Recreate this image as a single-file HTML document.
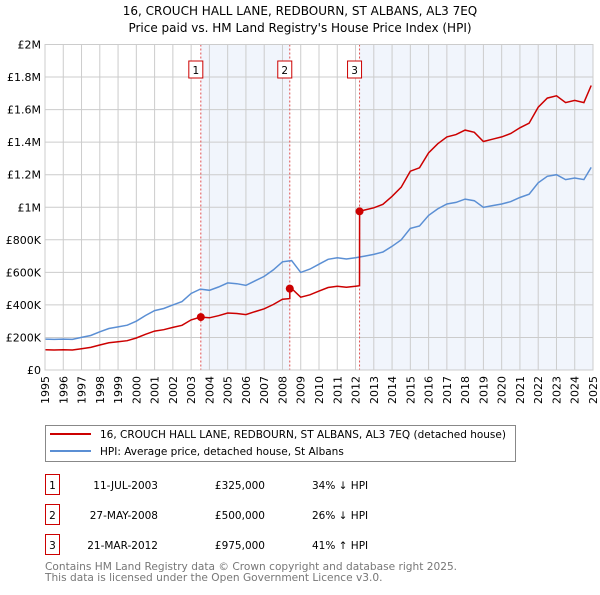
<!DOCTYPE html>
<html><head><meta charset="utf-8"><style>
body{margin:0;background:#fff;}
svg text{font-family:"DejaVu Sans","Liberation Sans",sans-serif;}
</style></head><body>
<svg id="c" width="600" height="590" viewBox="0 0 600 590" xmlns="http://www.w3.org/2000/svg">
<text x="300" y="15" text-anchor="middle" font-size="12">16, CROUCH HALL LANE, REDBOURN, ST ALBANS, AL3 7EQ</text>
<text x="300" y="32" text-anchor="middle" font-size="12">Price paid vs. HM Land Registry's House Price Index (HPI)</text>
<g id="plot"></g>
<g>
<rect x="45.5" y="425.5" width="470" height="36" fill="#fff" stroke="#888"/>
<line x1="50" y1="434" x2="91" y2="434" stroke="#cc0000" stroke-width="2"/>
<text x="100" y="438" font-size="10.5">16, CROUCH HALL LANE, REDBOURN, ST ALBANS, AL3 7EQ (detached house)</text>
<line x1="50" y1="451" x2="91" y2="451" stroke="#5b8fd4" stroke-width="2"/>
<text x="100" y="455" font-size="10.5">HPI: Average price, detached house, St Albans</text>
</g>
<g id="table" font-size="10.5"></g>
<text x="45" y="570" font-size="10.6" fill="#777">Contains HM Land Registry data © Crown copyright and database right 2025.</text>
<text x="45" y="581" font-size="10.6" fill="#777">This data is licensed under the Open Government Licence v3.0.</text>
</svg>
<script>
const hpiYears=[1995,1995.5,1996,1996.5,1997,1997.5,1998,1998.5,1999,1999.5,2000,2000.5,2001,2001.5,2002,2002.5,2003,2003.5,2004,2004.5,2005,2005.5,2006,2006.5,2007,2007.5,2008,2008.5,2009,2009.5,2010,2010.5,2011,2011.5,2012,2012.5,2013,2013.5,2014,2014.5,2015,2015.5,2016,2016.5,2017,2017.5,2018,2018.5,2019,2019.5,2020,2020.5,2021,2021.5,2022,2022.5,2023,2023.5,2024,2024.5,2024.9];
const hpiValues=[190,188,190,188,200,212,235,255,265,275,300,335,365,378,400,420,470,497,490,510,535,530,520,548,575,615,665,672,600,620,650,680,690,682,690,700,710,725,760,800,870,885,950,990,1020,1030,1050,1040,1000,1010,1020,1035,1060,1080,1150,1190,1200,1170,1180,1170,1245];
const saleLabels=["1","2","3"];
const saleYears=[2003.53,2008.4,2012.22];
const salePrices=[325,500,975];
const saleDates=["11-JUL-2003","27-MAY-2008","21-MAR-2012"];
const salePriceText=["£325,000","£500,000","£975,000"];
const saleHpiText=["34% ↓ HPI","26% ↓ HPI","41% ↑ HPI"];
const yTicks=[0,200,400,600,800,1000,1200,1400,1600,1800,2000];
const yTickLabels=["£0","£200K","£400K","£600K","£800K","£1M","£1.2M","£1.4M","£1.6M","£1.8M","£2M"];

const NS="http://www.w3.org/2000/svg";
const X0=45,X1=593,Y0=370,Y1=44.5;
const xs=t=>X0+(t-1995)/30*(X1-X0);
const ys=v=>Y0-v/2000*(Y0-Y1);
const plot=document.getElementById('plot');
function mk(tag,attrs,parent){const e=document.createElementNS(NS,tag);for(const k in attrs)e.setAttribute(k,attrs[k]);(parent||plot).appendChild(e);return e;}
function hpiAt(t){for(let i=0;i<hpiYears.length-1;i++){if(t<=hpiYears[i+1]){const f=(t-hpiYears[i])/(hpiYears[i+1]-hpiYears[i]);return hpiValues[i]+f*(hpiValues[i+1]-hpiValues[i]);}}return hpiValues[hpiValues.length-1];}

let sh=mk('rect',{x:xs(saleYears[0]),y:Y1,width:xs(saleYears[1])-xs(saleYears[0]),height:Y0-Y1,fill:'#eef2fb',opacity:0.8});


let sh2=mk('rect',{x:xs(saleYears[2]),y:Y1,width:X1-xs(saleYears[2]),height:Y0-Y1,fill:'#eef2fb',opacity:0.8});


for(let i=0;i<yTicks.length;i++){
 const y=ys(yTicks[i]);
 const g=mk('line',{x1:X0,x2:X1,y1:y,y2:y,stroke:'#ccc','stroke-width':1});
 
 
 const t=mk('text',{x:X0-4,y:y+4,'text-anchor':'end','font-size':11});
 t.textContent=yTickLabels[i];
 
 
}
for(let yr=1995;yr<=2025;yr++){
 const x=xs(yr);
 const g=mk('line',{x1:x,x2:x,y1:Y1,y2:Y0,stroke:'#ccc','stroke-width':1});
 
 
 const t=mk('text',{transform:`translate(${x+4},${Y0+34}) rotate(-90)`,'font-size':11});
 t.textContent=yr;
 
 
}
for(let i=0;i<saleYears.length;i++){
 const x=xs(saleYears[i]);
 const l=mk('line',{x1:x,x2:x,y1:Y1,y2:Y0,stroke:'#e05050','stroke-width':1,'stroke-dasharray':'2,2'});
 
 
 const b=mk('rect',{x:x-12,y:61,width:14,height:17,fill:'#fff',stroke:'#cc0000'});
 
 
 const t=mk('text',{x:x-5,y:74,'text-anchor':'middle','font-size':10.5});
 t.textContent=saleLabels[i];
 
 
}
let d='';
hpiYears.forEach((t,i)=>{d+=(i?'L':'M')+xs(t).toFixed(1)+','+ys(hpiValues[i]).toFixed(1);});
const hp=mk('path',{d:d,fill:'none',stroke:'#5b8fd4','stroke-width':1.5});


let pd='';
const ratio0=salePrices[0]/hpiAt(saleYears[0]);
function priceAt(t){let r=ratio0;for(let i=0;i<saleYears.length;i++){if(t>=saleYears[i])r=salePrices[i]/hpiAt(saleYears[i]);}return hpiAt(t)*r;}
const pts=[];
hpiYears.forEach(t=>pts.push(t));
saleYears.forEach(t=>{pts.push(t-0.001);pts.push(t);});
pts.sort((a,b)=>a-b);
pts.forEach((t,i)=>{pd+=(i?'L':'M')+xs(t).toFixed(1)+','+ys(priceAt(t)).toFixed(1);});
const pp=mk('path',{d:pd,fill:'none',stroke:'#cc0000','stroke-width':1.5});


for(let i=0;i<saleYears.length;i++){
 const c=mk('circle',{cx:xs(saleYears[i]),cy:ys(salePrices[i]),r:4,fill:'#cc0000'});
 
 
}
const ax=mk('rect',{x:X0,y:Y1,width:X1-X0,height:Y0-Y1,fill:'none',stroke:'#ccc'});


const tb=document.getElementById('table');
const rowY=[485,515,545];
for(let i=0;i<saleYears.length;i++){
 const y=rowY[i];
 const b=mk('rect',{x:45.5,y:y-10.5,width:14,height:20,fill:'#fff',stroke:'#cc0000'},tb);
 
 
 const n=mk('text',{x:52.5,y:y+4,'text-anchor':'middle'},tb);n.textContent=saleLabels[i];
 
 
 const dt=mk('text',{x:158,y:y+4,'text-anchor':'end'},tb);dt.textContent=saleDates[i];
 
 
 const p=mk('text',{x:265,y:y+4,'text-anchor':'end'},tb);p.textContent=salePriceText[i];
 
 
 const h=mk('text',{x:312,y:y+4},tb);h.textContent=saleHpiText[i];
 
 
}
</script>
</body></html>
